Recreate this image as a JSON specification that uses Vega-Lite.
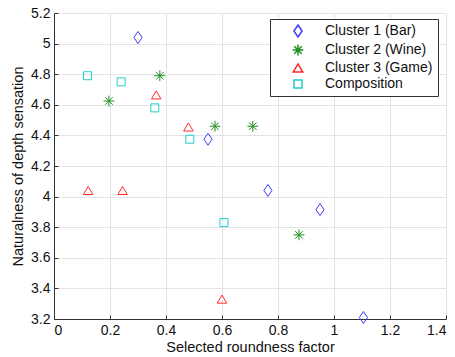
{
  "$schema": "https://vega.github.io/schema/vega-lite/v6.json",
  "autosize": "none",
  "width": 392,
  "height": 306,
  "padding": {"left": 54, "top": 13, "right": 9, "bottom": 38},
  "background": "white",
  "config": {
    "font": "Liberation Sans",
    "view": {"stroke": "#d4d4d4", "strokeWidth": 1},
    "axis": {
      "labelFont": "Liberation Sans",
      "titleFont": "Liberation Sans",
      "labelFontSize": 14,
      "titleFontSize": 14.5,
      "titleFontWeight": "normal",
      "labelColor": "#111",
      "titleColor": "#111",
      "gridColor": "#e3e3e3",
      "gridOpacity": 1,
      "domainColor": "#333",
      "tickColor": "#333",
      "tickSize": -4,
      "labelPadding": 8,
      "format": ".1~f"
    }
  },
  "data": {
    "values": [
      {"x": 0.30, "y": 5.04, "series": "Cluster 1 (Bar)"},
      {"x": 0.55, "y": 4.375, "series": "Cluster 1 (Bar)"},
      {"x": 0.764, "y": 4.04, "series": "Cluster 1 (Bar)"},
      {"x": 0.95, "y": 3.915, "series": "Cluster 1 (Bar)"},
      {"x": 1.105, "y": 3.21, "series": "Cluster 1 (Bar)"},
      {"x": 0.196, "y": 4.625, "series": "Cluster 2 (Wine)"},
      {"x": 0.378, "y": 4.79, "series": "Cluster 2 (Wine)"},
      {"x": 0.575, "y": 4.46, "series": "Cluster 2 (Wine)"},
      {"x": 0.71, "y": 4.46, "series": "Cluster 2 (Wine)"},
      {"x": 0.875, "y": 3.75, "series": "Cluster 2 (Wine)"},
      {"x": 0.365, "y": 4.665, "series": "Cluster 3 (Game)"},
      {"x": 0.48, "y": 4.455, "series": "Cluster 3 (Game)"},
      {"x": 0.122, "y": 4.04, "series": "Cluster 3 (Game)"},
      {"x": 0.245, "y": 4.04, "series": "Cluster 3 (Game)"},
      {"x": 0.60, "y": 3.33, "series": "Cluster 3 (Game)"},
      {"x": 0.12, "y": 4.79, "series": "Composition"},
      {"x": 0.24, "y": 4.75, "series": "Composition"},
      {"x": 0.36, "y": 4.58, "series": "Composition"},
      {"x": 0.485, "y": 4.375, "series": "Composition"},
      {"x": 0.607, "y": 3.83, "series": "Composition"}
    ]
  },
  "mark": {"type": "point", "filled": false, "strokeWidth": 1, "opacity": 1, "size": 100},
  "encoding": {
    "x": {
      "field": "x", "type": "quantitative",
      "scale": {"domain": [0, 1.4], "nice": false, "zero": false},
      "axis": {"values": [0, 0.2, 0.4, 0.6, 0.8, 1, 1.2, 1.4], "title": "Selected roundness factor", "titlePadding": 3}
    },
    "y": {
      "field": "y", "type": "quantitative",
      "scale": {"domain": [3.2, 5.2], "nice": false, "zero": false},
      "axis": {"values": [3.2, 3.4, 3.6, 3.8, 4, 4.2, 4.4, 4.6, 4.8, 5, 5.2], "title": "Naturalness of depth sensation", "titlePadding": 5}
    },
    "shape": {
      "field": "series", "type": "nominal",
      "scale": {
        "domain": ["Cluster 1 (Bar)", "Cluster 2 (Wine)", "Cluster 3 (Game)", "Composition"],
        "range": [
          "M0,-1L0.68,0L0,1L-0.68,0Z",
          "M-1,0L1,0M0,-1L0,1M-0.7,-0.7L0.7,0.7M-0.7,0.7L0.7,-0.7",
          "M0,-0.85L1,0.85L-1,0.85Z",
          "M-1,-1L1,-1L1,1L-1,1Z"
        ]
      },
      "legend": {
        "title": null,
        "orient": "none",
        "legendX": 216,
        "legendY": 6,
        "fillColor": "white",
        "strokeColor": "#333",
        "padding": 5,
        "labelFont": "Liberation Sans",
        "labelFontSize": 14,
        "labelColor": "#111",
        "labelOffset": 20,
        "symbolOffset": 16,
        "rowPadding": 1,
        "labelLimit": 200,
        "encode": {"symbols": {"update": {"size": {"value": 80}}}}
      }
    },
    "color": {
      "field": "series", "type": "nominal",
      "scale": {
        "domain": ["Cluster 1 (Bar)", "Cluster 2 (Wine)", "Cluster 3 (Game)", "Composition"],
        "range": ["#3a3aff", "#1f8f1f", "#ff2a2a", "#22cccc"]
      }
    },
    "size": {
      "field": "series", "type": "nominal",
      "scale": {
        "domain": ["Cluster 1 (Bar)", "Cluster 2 (Wine)", "Cluster 3 (Game)", "Composition"],
        "range": [144, 64, 110, 36]
      }
    }
  }
}
